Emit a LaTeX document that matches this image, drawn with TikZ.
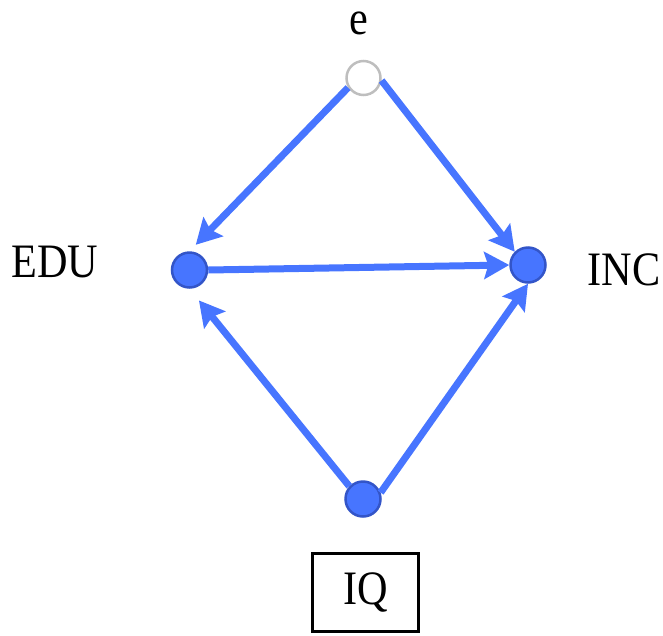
\documentclass[tikz,border=0pt]{standalone}
\usepackage{fontspec}
\setmainfont{Liberation Serif}
\usepackage{xcolor}
\usepackage{graphicx}
\usetikzlibrary{arrows.meta}
\definecolor{pathblue}{RGB}{71,117,255}
\definecolor{rimblue}{RGB}{51,85,200}
\definecolor{rimgray}{RGB}{190,190,190}
\newcommand{\narrowtext}[1]{\scalebox{0.88}[1]{#1}}

\begin{document}
\begin{tikzpicture}[x=1pt,y=-1pt,>={Stealth[length=25pt,width=27pt,inset=4pt]},
  var/.style={circle,draw=rimblue,fill=pathblue,line width=2.5pt,minimum size=35pt,inner sep=0pt},
  err/.style={circle,draw=rimgray,fill=white,line width=2.5pt,minimum size=34pt,inner sep=0pt},
  lab/.style={font=\fontsize{48}{54}\selectfont,inner sep=0pt},
  link/.style={->,pathblue,line width=7pt}]
  \useasboundingbox (0,0) rectangle (663,635);
  % variables
  \node[err] (e) at (363.5,78) {};
  \node[var] (edu) at (189.5,270) {};
  \node[var] (inc) at (528,265) {};
  \node[var] (iq) at (363,499) {};
  % labels
  \node[lab] (le) at (359,23) {\narrowtext{e}};
  \node[lab] (ledu) at (55,262) {\narrowtext{EDU}};
  \node[lab] (linc) at (624,270) {\narrowtext{INC}};
  \node[lab,draw,line width=3pt,minimum width=106pt,minimum height=78pt] (liq) at (365.5,592.5) {\narrowtext{IQ}};
  % paths
  \draw[link,shorten >=9pt] (e.-148) -- (edu.north);
  \draw[link] (e.-8) -- (inc.north west);
  \draw[link] (edu.east) -- (inc.west);
  \draw[link,shorten >=15pt] (iq.137) -- (edu.south);
  \draw[link] (iq.20) -- (inc.south);
\end{tikzpicture}
\end{document}
